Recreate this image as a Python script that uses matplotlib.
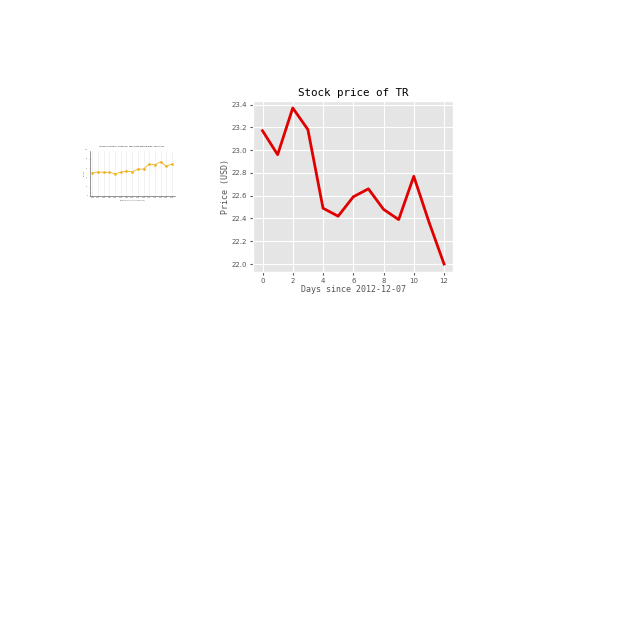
import matplotlib
matplotlib.use("Agg")
import matplotlib.pyplot as plt

plt.style.use('ggplot')

days = list(range(13))
price = [23.17, 22.96, 23.37, 23.18, 22.49, 22.42, 22.59, 22.66, 22.48, 22.39, 22.77, 22.37, 22.00]

# small thumbnail chart on the left
thumb_x = list(range(15))
thumb_y = [50, 52, 51, 51, 48, 51, 54, 52, 58, 58, 69, 67, 74, 64, 69]
thumb_labels = ['%d' % (2000 + i) for i in thumb_x]

fig = plt.figure(figsize=(6.4, 6.4), dpi=100)

ax = fig.add_axes([0.396, 0.575, 0.312, 0.267])
ax.plot(days, price, color='#e00000', linewidth=2.0)
ax.set_title('Stock price of TR', family='DejaVu Sans Mono', fontsize=7.8, pad=4)
ax.set_xlabel('Days since 2012-12-07', family='DejaVu Sans Mono', fontsize=6, labelpad=1)
ax.set_ylabel('Price (USD)', family='DejaVu Sans Mono', fontsize=6, labelpad=1)
ax.set_xticks([0, 2, 4, 6, 8, 10, 12])
ax.set_yticks([22.0, 22.2, 22.4, 22.6, 22.8, 23.0, 23.2, 23.4])
ax.tick_params(labelsize=5, length=2.4, pad=2)
ax.set_xlim(-0.6, 12.6)
ax.set_ylim(21.93, 23.43)

ins = fig.add_axes([0.14, 0.694, 0.133, 0.072], facecolor='white')
ins.plot(thumb_x, thumb_y, color='#efb21e', linewidth=0.6, marker='o', markersize=0.9)
ins.set_ylim(0, 100)
ins.set_xlim(-0.5, 14.5)
ins.set_xticks(thumb_x)
ins.set_xticklabels(thumb_labels)
ins.set_yticks([0, 20, 40, 60, 80, 100])
ins.grid(axis='y', visible=False)
ins.grid(axis='x', color='#e6e6e6', linewidth=0.4)
ins.tick_params(labelsize=1.2, length=0.5, width=0.3, pad=0.5)
ins.set_title('Average number of visitors per year at the national park, 2000-2014', fontsize=1.4, pad=2)
ins.set_xlabel('Number of visitors (thousands)', fontsize=1.2, labelpad=0.5)
ins.set_ylabel('Visitors', fontsize=1.2, labelpad=0.5)
for s in ['left', 'bottom']:
    ins.spines[s].set_visible(True)
    ins.spines[s].set_color('#444444')
    ins.spines[s].set_linewidth(0.4)

fig.savefig('out.png', dpi=100)
